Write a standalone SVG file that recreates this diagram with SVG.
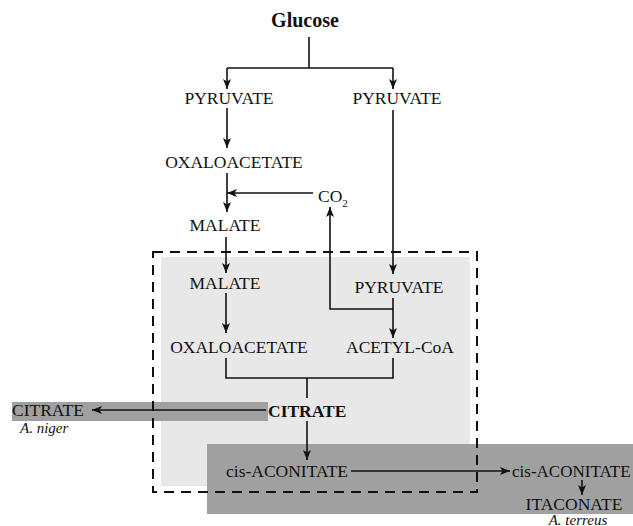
<svg xmlns="http://www.w3.org/2000/svg" width="633" height="526" viewBox="0 0 633 526">
<defs>
<style>
text{font-family:"Liberation Serif","Times New Roman",serif;font-size:17.5px;fill:#111}
.b{font-weight:bold}
.i{font-style:italic;font-size:15px}
.c{text-anchor:middle}
.ln{stroke:#111;stroke-width:1.6;fill:none}
.arr{marker-end:url(#ah)}
</style>
<marker id="ah" viewBox="0 0 10 8" refX="10" refY="4" markerWidth="10" markerHeight="8" markerUnits="userSpaceOnUse" orient="auto">
<path d="M0,0 L10,4 L0,8 L2.5,4 Z" fill="#111"/>
</marker>
</defs>
<g id="backgrounds">
<rect x="161" y="257" width="309" height="229" fill="#e8e8e8"/>
<rect x="12" y="402" width="256" height="19" fill="#a0a0a0"/>
<rect x="207" y="444" width="426" height="70" fill="#a0a0a0"/>
<rect x="153" y="252" width="324" height="240" fill="none" stroke="#111" stroke-width="2" stroke-dasharray="10,7"/>
</g>
<g id="connectors">
<path class="ln" d="M309,37 V68 M227,68 H393"/>
<path class="ln arr" d="M227,68 V89"/>
<path class="ln arr" d="M393,68 V89"/>
<path class="ln arr" d="M227,108 V148"/>
<path class="ln arr" d="M227,173 V212"/>
<path class="ln arr" d="M313,193 H227"/>
<path class="ln arr" d="M393,309 H330 V207"/>
<path class="ln arr" d="M226,237 V273"/>
<path class="ln arr" d="M393,110 V274"/>
<path class="ln arr" d="M226,293 V333"/>
<path class="ln arr" d="M393,298 V338"/>
<path class="ln" d="M226,358 V378 H393 V358 M307,378 V398"/>
<path class="ln arr" d="M266,410 H92"/>
<path class="ln arr" d="M307,421 V460"/>
<path class="ln arr" d="M351,471 H510"/>
<path class="ln arr" d="M582,480 V495"/>
</g>
<g id="n-glucose"><text class="b c" x="305" y="27" style="font-size:20px">Glucose</text></g>
<g id="n-pyruvate1"><text class="c" x="229" y="104">PYRUVATE</text></g>
<g id="n-pyruvate2"><text class="c" x="397" y="104">PYRUVATE</text></g>
<g id="n-oxaloacetate1"><text class="c" x="234" y="168">OXALOACETATE</text></g>
<g id="n-co2"><text x="318" y="202">CO<tspan dy="5" style="font-size:11px">2</tspan></text></g>
<g id="n-malate1"><text class="c" x="225" y="231">MALATE</text></g>
<g id="n-malate2"><text class="c" x="225" y="289">MALATE</text></g>
<g id="n-pyruvate3"><text class="c" x="399" y="293">PYRUVATE</text></g>
<g id="n-oxaloacetate2"><text class="c" x="239" y="353">OXALOACETATE</text></g>
<g id="n-acetylcoa"><text class="c" x="400" y="353">ACETYL-CoA</text></g>
<g id="n-citrate"><text class="b" x="268" y="417">CITRATE</text></g>
<g id="n-citrate-niger"><text x="12" y="416">CITRATE</text><text class="i" x="20" y="433">A. niger</text></g>
<g id="n-cisaconitate1"><text x="226" y="477">cis-ACONITATE</text></g>
<g id="n-cisaconitate2"><text x="512" y="477" style="font-size:17px">cis-ACONITATE</text></g>
<g id="n-itaconate"><text class="c" x="574" y="510">ITACONATE</text><text class="i c" x="578" y="525">A. terreus</text></g>
</svg>
